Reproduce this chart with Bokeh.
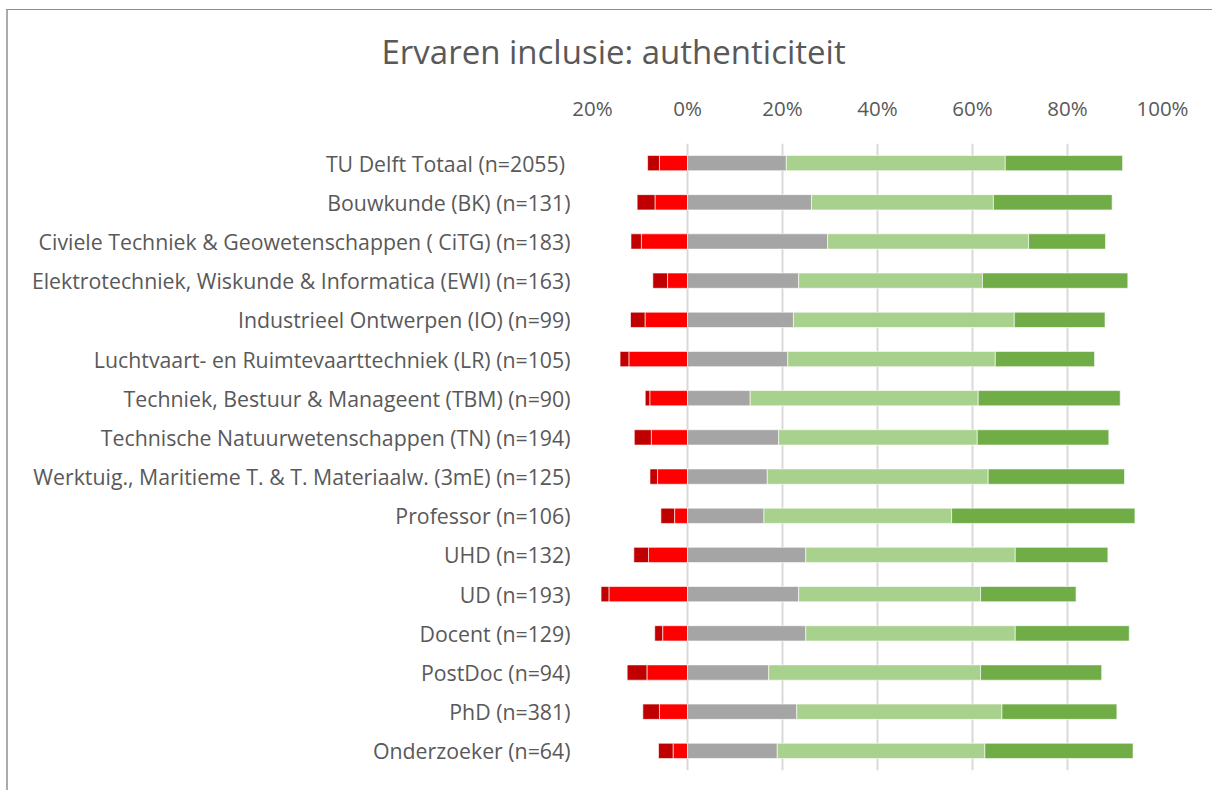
from bokeh.plotting import figure
from bokeh.models import Range1d, FactorRange, FixedTicker, Title
from bokeh.embed import file_html
from bokeh.resources import INLINE

categories = [
    "TU Delft Totaal  (n=2055)",
    "Bouwkunde (BK) (n=131)",
    "Civiele Techniek & Geowetenschappen ( CiTG) (n=183)",
    "Elektrotechniek, Wiskunde & Informatica (EWI) (n=163)",
    "Industrieel Ontwerpen (IO) (n=99)",
    "Luchtvaart- en Ruimtevaarttechniek (LR) (n=105)",
    "Techniek, Bestuur & Manageent (TBM) (n=90)",
    "Technische Natuurwetenschappen (TN) (n=194)",
    "Werktuig., Maritieme T. & T. Materiaalw. (3mE) (n=125)",
    "Professor (n=106)",
    "UHD (n=132)",
    "UD (n=193)",
    "Docent (n=129)",
    "PostDoc (n=94)",
    "PhD (n=381)",
    "Onderzoeker (n=64)",
]
zeer_oneens = [2.5, 3.8, 2.2, 3.1, 3.1, 1.9, 1.0, 3.6, 1.6, 2.9, 3.1, 1.7, 1.7, 4.2, 3.5, 3.1]
oneens      = [5.9, 6.8, 9.7, 4.2, 8.9, 12.3, 7.9, 7.6, 6.3, 2.7, 8.2, 16.5, 5.2, 8.5, 5.9, 3.0]
neutraal    = [20.8, 26.1, 29.5, 23.4, 22.3, 21.1, 13.2, 19.2, 16.8, 16.1, 24.9, 23.4, 24.9, 17.1, 23.0, 18.9]
eens        = [46.1, 38.3, 42.3, 38.7, 46.5, 43.7, 48.0, 41.8, 46.5, 39.5, 44.1, 38.3, 44.1, 44.6, 43.2, 43.7]
zeer_eens   = [24.7, 25.0, 16.2, 30.6, 19.1, 20.9, 29.9, 27.7, 28.7, 38.6, 19.5, 20.1, 24.0, 25.5, 24.2, 31.2]
tick_values = [-20, 0, 20, 40, 60, 80, 100]
tick_labels = ["20%", "0%", "20%", "40%", "60%", "80%", "100%"]
title_text = "Ervaren inclusie: authenticiteit"

TEXT = "#595959"
FONT = "Open Sans"

p = figure(
    width=1206, height=781,
    y_range=FactorRange(*reversed(categories), range_padding=0),
    x_range=Range1d(-20, 100),
    output_backend="svg", toolbar_location=None,
    x_axis_location="above",
    min_border_left=584, min_border_right=52,
    min_border_top=129, min_border_bottom=21,
)

# stacked segments
neg_inner_l = [-v for v in oneens]
neg_outer_l = [-(a + b) for a, b in zip(oneens, zeer_oneens)]
g_end = neutraal
lg_end = [a + b for a, b in zip(neutraal, eens)]
dg_end = [a + b for a, b in zip(lg_end, zeer_eens)]

H = 0.39
common = dict(height=H, line_color="white", line_width=1, line_alpha=0.6)
p.hbar(y=categories, left=neg_outer_l, right=neg_inner_l, fill_color="#C00000", **common)
p.hbar(y=categories, left=neg_inner_l, right=[0] * len(categories), fill_color="#FF0000", **common)
p.hbar(y=categories, left=[0] * len(categories), right=g_end, fill_color="#A5A5A5", **common)
p.hbar(y=categories, left=g_end, right=lg_end, fill_color="#A9D18E", **common)
p.hbar(y=categories, left=lg_end, right=dg_end, fill_color="#70AD47", **common)

# x axis
xa = p.xaxis[0]
xa.ticker = FixedTicker(ticks=tick_values)
xa.major_label_overrides = {v: l for v, l in zip(tick_values, tick_labels)}
xa.axis_line_color = None
xa.major_tick_line_color = None
xa.minor_tick_line_color = None
xa.major_label_text_font = FONT
xa.major_label_text_font_size = "20.5px"
xa.major_label_text_color = TEXT
xa.major_label_standoff = 16

ya = p.yaxis[0]
ya.axis_line_color = None
ya.major_tick_line_color = None
ya.minor_tick_line_color = None
ya.major_label_text_font = FONT
ya.major_label_text_font_size = "21.3px"
ya.major_label_text_color = TEXT
ya.major_label_standoff = 16

p.xgrid.grid_line_color = "#D9D9D9"
p.xgrid.grid_line_width = 2
p.xgrid.ticker = FixedTicker(ticks=tick_values)
p.ygrid.grid_line_color = None
p.outline_line_color = None

p.title = Title(text=title_text, align="left", text_font=FONT,
                text_font_size="33px", text_font_style="normal",
                text_color=TEXT, offset=-211, standoff=33)
p.title_location = "above"

p.styles = {"margin-left": "6px", "margin-top": "9px",
            "border-left": "2px solid #ABABAB", "border-top": "1px solid #8C8C8C"}

open("out.html", "w").write(file_html(p, INLINE))
